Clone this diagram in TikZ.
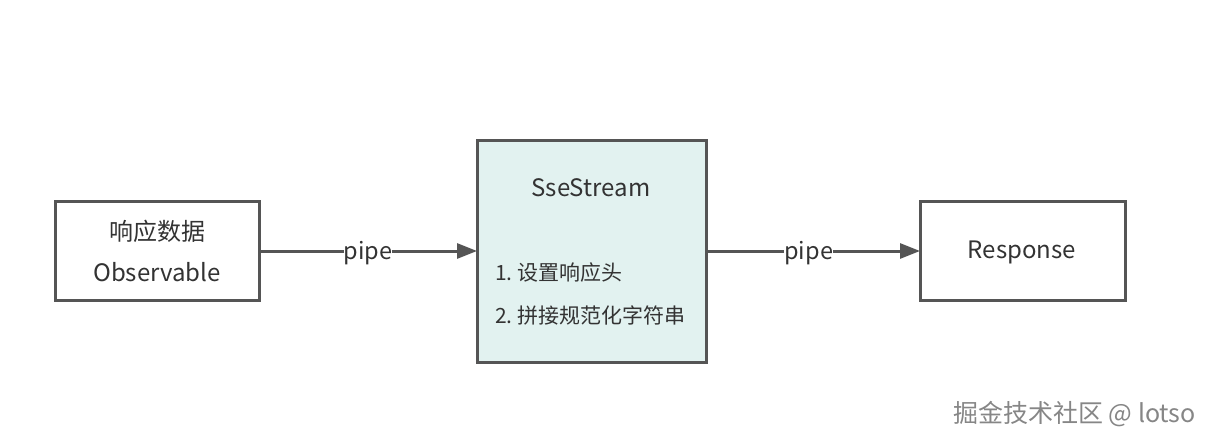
\documentclass[tikz,border=0pt]{standalone}
\usepackage{fontspec}
\setmainfont{Noto Sans CJK SC}
\usetikzlibrary{arrows.meta}
\definecolor{edge}{HTML}{555555}
\definecolor{txt}{HTML}{333333}
\definecolor{teal}{HTML}{E2F2F0}
\tikzset{
  box/.style={draw=edge, line width=3pt},
  conn/.style={draw=edge, line width=3pt, -{Triangle[length=20pt,width=15pt]}},
  lbl/.style={fill=white, inner sep=0pt, text=txt, font=\fontsize{23.5}{28}\selectfont},
  plain/.style={text=txt, font=\fontsize{24}{28}\selectfont, inner sep=0pt},
  item/.style={text=txt, font=\fontsize{21}{26}\selectfont, inner sep=0pt, anchor=west},
}
\begin{document}
\begin{tikzpicture}[x=1pt,y=-1pt]
\useasboundingbox (0,0) rectangle (1210,444);
\fill[white] (0,0) rectangle (1210,444);
\draw[box] (55,201) rectangle (259,300);
\coordinate (aR) at (259,251);
\node[plain] (t1) at (157,231) {响应数据};
\node[plain] (t2) at (157,272) {Observable};
\draw[box, fill=teal] (477,140) rectangle (706,362);
\coordinate (bL) at (477,251);
\coordinate (bR) at (706,251);
\node[plain] (s0) at (591,188) {SseStream};
\node[item] (s1) at (495,273) {1.\ 设置响应头};
\node[item] (s2) at (495,315) {2.\ 拼接规范化字符串};
\draw[box] (920,201) rectangle (1125,300);
\coordinate (cL) at (920,251);
\node[plain] (r) at (1022,252) {Response};
\draw[conn] (aR) -- (bL) node[lbl, pos=0.5, yshift=-2pt] {pipe};
\draw[conn] (bR) -- (cL) node[lbl, pos=0.48, yshift=-2pt] {pipe};
\node[anchor=east, inner sep=0pt, text=gray!95, font=\fontsize{25}{28}\selectfont] (wm) at (1196,414) {掘金技术社区 @ lotso};
\end{tikzpicture}
\end{document}
